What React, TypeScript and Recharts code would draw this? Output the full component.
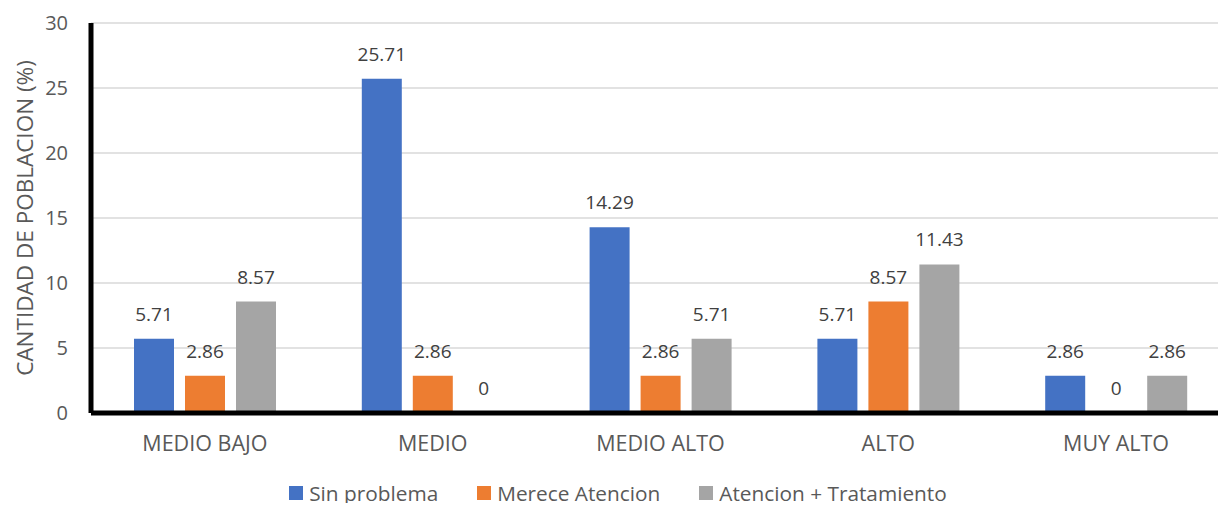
import { Bar, BarChart, CartesianGrid, LabelList, Legend, XAxis, YAxis } from "recharts";

const niveles = ["MEDIO BAJO", "MEDIO", "MEDIO ALTO", "ALTO", "MUY ALTO"];
const sinProblema = [5.71, 25.71, 14.29, 5.71, 2.86];
const mereceAtencion = [2.86, 2.86, 2.86, 8.57, 0];
const atencionTratamiento = [8.57, 0, 5.71, 11.43, 2.86];
const yTicks = [0, 5, 10, 15, 20, 25, 30];

const series = [
  { key: "sin", name: "Sin problema", color: "#4472C4" },
  { key: "merece", name: "Merece Atencion", color: "#ED7D31" },
  { key: "atencion", name: "Atencion + Tratamiento", color: "#A5A5A5" },
];

const data = niveles.map((nivel, i) => ({
  nivel,
  sin: sinProblema[i],
  merece: mereceAtencion[i],
  atencion: atencionTratamiento[i],
}));

const FONT = "'Open Sans', sans-serif";
const TEXT = "#595959";

function renderLegend() {
  return (
    <div
      style={{
        display: "flex",
        justifyContent: "center",
        gap: 39,
        fontFamily: FONT,
        fontSize: 20.8,
        lineHeight: "28px",
        color: TEXT,
        marginLeft: 6,
      }}
    >
      {series.map((s) => (
        <div key={s.key} style={{ display: "flex", alignItems: "center" }}>
          <span
            style={{
              display: "inline-block",
              width: 14,
              height: 14,
              background: s.color,
              marginRight: 6,
            }}
          />
          <span>{s.name}</span>
        </div>
      ))}
    </div>
  );
}

export default function App() {
  return (
    <div style={{ width: 1226, height: 511, overflow: "hidden", margin: -8, background: "#fff" }}>
      <BarChart
        width={1230}
        height={511}
        data={data}
        margin={{ top: 23, right: 0, left: 0, bottom: 40 }}
        barSize={40}
        barGap={11}
      >
        <CartesianGrid vertical={false} stroke="#D9D9D9" strokeWidth={1.5} />
        <XAxis
          dataKey="nivel"
          axisLine={{ stroke: "#000", strokeWidth: 5 }}
          tickLine={false}
          tickSize={0}
          tickMargin={23}
          tick={{ fill: TEXT, fontSize: 21.5, fontFamily: FONT }}
          interval={0}
        />
        <YAxis
          width={91}
          domain={[0, 30]}
          ticks={yTicks}
          interval={0}
          axisLine={{ stroke: "#000", strokeWidth: 5 }}
          tickLine={false}
          tickSize={0}
          tickMargin={23}
          tick={{ fill: TEXT, fontSize: 20, fontFamily: FONT }}
          label={{
            value: "CANTIDAD DE POBLACION (%)",
            angle: -90,
            position: "insideLeft",
            dx: 20,
            style: { textAnchor: "middle", fill: TEXT, fontSize: 22.5, fontFamily: FONT },
          }}
        />
        <Legend verticalAlign="bottom" content={renderLegend} wrapperStyle={{ bottom: 4 }} />
        {series.map((s) => (
          <Bar
            key={s.key}
            dataKey={s.key}
            name={s.name}
            fill={s.color}
            minPointSize={0.3}
            isAnimationActive={false}
          >
            <LabelList
              dataKey={s.key}
              position="top"
              offset={18}
              style={{ fill: "#404040", fontSize: 19, fontFamily: FONT }}
            />
          </Bar>
        ))}
      </BarChart>
    </div>
  );
}
